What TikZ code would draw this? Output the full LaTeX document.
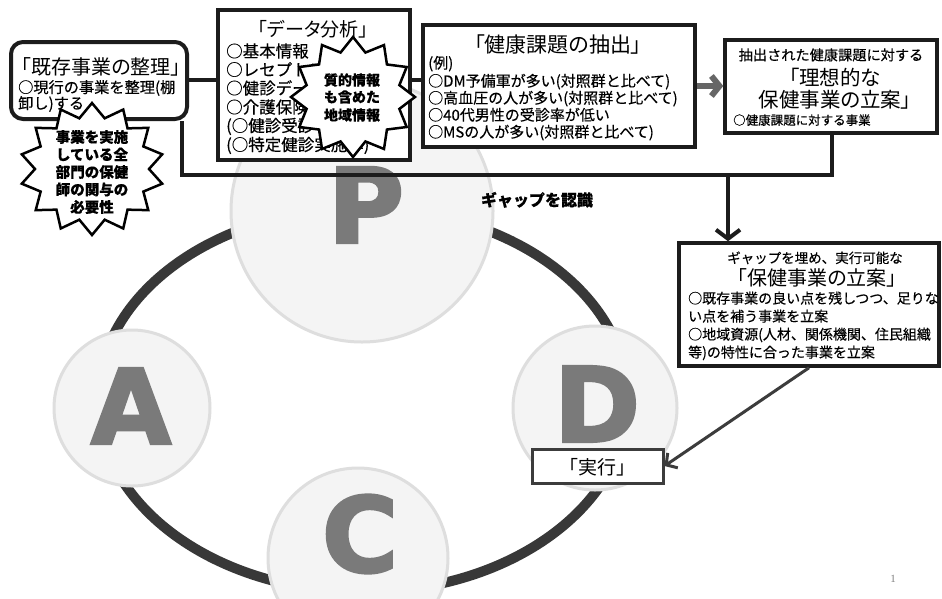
\documentclass[tikz,border=0pt]{standalone}
\usepackage{fontspec}
\setmainfont{Noto Sans CJK JP}[FakeBold=0.35]
\newfontfamily\jpp{Noto Sans CJK JP}[RawFeature=+palt]
\newfontfamily\letterfont{DejaVu Sans}[BoldFeatures={FakeBold=2.5}]
\newfontfamily\pgnum{Liberation Serif}
\usetikzlibrary{arrows.meta}
\definecolor{ringc}{HTML}{383838}
\definecolor{circfill}{HTML}{F4F4F4}
\definecolor{circline}{HTML}{DEDEDE}
\definecolor{lettergray}{HTML}{7A7A7A}
\definecolor{boxline}{HTML}{1C1C1C}
\definecolor{arrowgray}{HTML}{666666}
\definecolor{darkline}{HTML}{3C3C3C}
\begin{document}
\begin{tikzpicture}[x=1pt,y=-1pt,
  box/.style={draw=boxline, line width=3.5pt, fill=white, inner sep=0pt},
  phase/.style={circle, draw=circline, line width=3pt, fill=circfill, inner sep=0pt},
  letter/.style={font=\letterfont\bfseries\fontsize{104}{104}\selectfont, text=lettergray, inner sep=0pt},
  ttl/.style={inner sep=0pt, anchor=base},
  bodyl/.style={inner sep=0pt, anchor=base west},
  burst/.style={draw=black, line width=2.5pt, fill=white, line join=miter},
  bursttext/.style={inner sep=0pt, anchor=base, font=\bfseries\fontsize{14.5}{16}\selectfont},
  link/.style={draw=boxline, line width=4pt},
]
\useasboundingbox (0,0) rectangle (942,598);
\fill[white] (0,0) rectangle (942,598);

% PDCA ring
\draw[ringc, line width=10pt] (363,400) ellipse [x radius=265pt, y radius=192pt];

% phase circles
\node[phase, minimum size=262pt] (P) at (362,211) {};
\node[phase, minimum size=156pt] (A) at (132,408) {};
\node[phase, minimum size=180pt] (C) at (358,558) {};
\node[phase, minimum size=164pt] (D) at (595,408) {};
\node[letter] (Pl) at (366,205) {P};
\node[letter] (Al) at (131,406) {A};
\node[letter] (Cl) at (360,534) {C};
\node[letter] (Dl) at (597,404) {D};

% boxes
\node[box, line width=4pt, rounded corners=12pt, minimum width=176pt, minimum height=77pt] (b1) at (99,80.5) {};
\node[box, line width=4pt, minimum width=192pt, minimum height=150pt] (b2) at (314,85) {};
\node[box, minimum width=272pt, minimum height=122pt] (b3) at (559,86) {};
\node[box, minimum width=212pt, minimum height=93pt] (b4) at (831,86.5) {};
\node[box, minimum width=260pt, minimum height=123pt] (b5) at (809,304.5) {};

% connectors
\coordinate (g1) at (182,175);
\coordinate (g2) at (832,175);
\coordinate (g3) at (728,175);
\draw[link] (b1.east |- 0,80) -- (b2.west |- 0,80);
\draw[link] (b2.east |- 0,80) -- (b3.west |- 0,80);
\draw[link, line join=miter] (b1.south -| g1) -- (g1) -- (g2) -- (b4.south -| g2);
\draw[link, -{Straight Barb[length=9pt,width=24pt]}] (g3) -- (b5.north -| g3);
\draw[arrowgray, line width=6pt, -{Straight Barb[length=8pt,width=20pt]}] (b3.east) -- (b3.east -| b4.west);

% execute box
\node[box, draw=darkline, line width=3pt, minimum width=131pt, minimum height=34pt] (jk) at (597.5,466) {};
\node[ttl, font=\jpp\fontsize{19}{21}\selectfont] (jkt) at (597.5,474) {「実行」};
\draw[darkline, line width=3pt, -{Straight Barb[length=8pt,width=18pt]}] (b5.south) -- (jk.east);

% box 1 text
\node[ttl, font=\jpp\fontsize{20}{22}\selectfont] (t1a) at (101,74.6) {「既存事業の整理」};
\node[bodyl, font=\fontsize{15.2}{17}\selectfont] (t1b) at (18,92.9) {○現行の事業を整理(棚};
\node[bodyl, font=\fontsize{15.2}{17}\selectfont] (t1c) at (18,108.9) {卸し)する};

% box 2 text
\node[ttl, font=\jpp\fontsize{19}{21}\selectfont] (t2a) at (313,36.2) {「データ分析」};
\begin{scope}[every node/.style={bodyl, font=\fontsize{16.5}{18}\selectfont}]
\node (t2b) at (226,57.3) {○基本情報};
\node (t2c) at (226,75.8) {○レセプトデータ};
\node (t2d) at (226,94.3) {○健診データ};
\node (t2e) at (226,113.3) {○介護保険データ};
\node (t2f) at (226,131.8) {(○健診受診率)};
\node (t2g) at (226,150.8) {(○特定健診実施率)};
\end{scope}

% box 3 text
\node[ttl, font=\jpp\fontsize{21}{23}\selectfont] (t3a) at (558,52) {「健康課題の抽出」};
\begin{scope}[every node/.style={bodyl, font=\fontsize{15}{17}\selectfont}]
\node (t3b) at (428,68.5) {(例)};
\node (t3c) at (428,86.5) {○DM予備軍が多い(対照群と比べて)};
\node (t3d) at (428,103.5) {○高血圧の人が多い(対照群と比べて)};
\node (t3e) at (428,120.5) {○40代男性の受診率が低い};
\node (t3f) at (428,137.5) {○MSの人が多い(対照群と比べて)};
\end{scope}

% box 4 text
\node[ttl, font=\fontsize{14.2}{16}\selectfont] (t4a) at (831,60.3) {抽出された健康課題に対する};
\node[ttl, font=\jpp\fontsize{20.5}{22}\selectfont] (t4b) at (835,85.8) {「理想的な};
\node[ttl, font=\jpp\fontsize{20.5}{22}\selectfont] (t4c) at (835,107.8) {保健事業の立案」};
\node[bodyl, font=\fontsize{12.5}{14}\selectfont] (t4d) at (733,124.8) {○健康課題に対する事業};

% box 5 text
\node[ttl, font=\fontsize{13.5}{15}\selectfont] (t5a) at (815,263) {ギャップを埋め、実行可能な};
\node[ttl, font=\jpp\fontsize{20}{22}\selectfont] (t5b) at (817,285.6) {「保健事業の立案」};
\begin{scope}[every node/.style={bodyl, font=\fontsize{14}{16}\selectfont}]
\node (t5c) at (688,303.5) {○既存事業の良い点を残しつつ、足りな};
\node (t5d) at (688,321.5) {い点を補う事業を立案};
\node (t5e) at (688,339.5) {○地域資源(人材、関係機関、住民組織};
\node (t5f) at (688,357.5) {等)の特性に合った事業を立案};
\end{scope}

% starbursts
\draw[burst] plot[samples=29, domain=0:28, variable=\k]
  ({92+ifthenelse(mod(\k,2)==0,72,57)*cos(90+\k*360/28)},
   {169-ifthenelse(mod(\k,2)==0,66,52)*sin(90+\k*360/28)}) -- cycle;
\node[bursttext] (s1a) at (92,142.5) {事業を実施};
\node[bursttext] (s1b) at (92,160) {している全};
\node[bursttext] (s1c) at (92,177.5) {部門の保健};
\node[bursttext] (s1d) at (92,195) {師の関与の};
\node[bursttext] (s1e) at (92,212.5) {必要性};

\draw[burst] plot[samples=25, domain=0:24, variable=\k]
  ({353+ifthenelse(mod(\k,2)==0,62,48)*cos(90+\k*360/24)},
   {97-ifthenelse(mod(\k,2)==0,60,46)*sin(90+\k*360/24)}) -- cycle;
\begin{scope}[every node/.style={bursttext, font=\bfseries\fontsize{14}{16}\selectfont}]
\node (s2a) at (352,85.3) {質的情報};
\node (s2b) at (352,102.3) {も含めた};
\node (s2c) at (352,120.3) {地域情報};
\end{scope}

% gap label
\node[ttl, font=\bfseries\fontsize{16}{18}\selectfont] (gap) at (537,206) {ギャップを認識};

% page number
\node[ttl, font=\pgnum\fontsize{11}{12}\selectfont, text=gray] (pg) at (893,582) {1};
\end{tikzpicture}
\end{document}
